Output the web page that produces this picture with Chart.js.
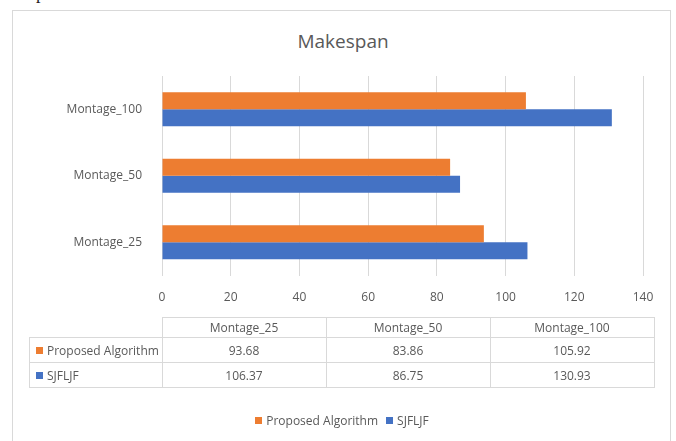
<!DOCTYPE html>
<html>
<head>
<meta charset="utf-8">
<script src="https://cdn.jsdelivr.net/npm/chart.js@4.4.0/dist/chart.umd.min.js"></script>
<style>
    body { margin: 0; background: #fff; font-family: 'Open Sans', sans-serif; color: #595959; }
    #wrap { position: relative; width: 676px; height: 441px; overflow: hidden; }
    #frame { position: absolute; left: 12px; top: 10px; width: 657px; height: 460px; border: 1px solid #d9d9d9; }
    #docText { position: absolute; left: 36px; top: -17px; font-family: 'Liberation Serif', serif; font-size: 18px; color: #222; }
    #title { position: absolute; left: 0; width: 686px; top: 29px; text-align: center; font-size: 19px; color: #595959; line-height: 24px; }
    canvas { position: absolute; left: 0; top: 0; }
    #dataTable { position: absolute; left: 29px; top: 317px; border-collapse: collapse; font-size: 12px; color: #595959; }
    #dataTable td { border: 1px solid #d9d9d9; text-align: center; padding: 0; white-space: nowrap; }
    #dataTable tr.head td { height: 19px; }
    #dataTable tr.row td { height: 24px; }
    #dataTable td.corner { border-top: none; border-left: none; }
    #dataTable td.name { text-align: left; padding-left: 6px; }
    .swatch { display: inline-block; width: 7px; height: 7px; margin-right: 4px; vertical-align: 1px; }
    #legend { position: absolute; left: 4px; width: 676px; top: 412px; text-align: center; font-size: 12px; color: #595959; }
    #legend span.item { margin: 0 4px; }
</style>
</head>
<body>
<div id="wrap">
    <div id="frame"></div>
    <div id="docText">p</div>
    <div id="title">Makespan</div>
    <canvas id="chart" width="676" height="441"></canvas>
    <table id="dataTable"></table>
    <div id="legend"></div>
</div>
<script>
    const categories = ['Montage_25', 'Montage_50', 'Montage_100'];
    const proposedValues = [93.68, 83.86, 105.92];
    const sjfljfValues = [106.37, 86.75, 130.93];
    const seriesNames = ['Proposed Algorithm', 'SJFLJF'];
    const seriesColors = ['#ed7d31', '#4472c4'];
    const xTicks = [0, 20, 40, 60, 80, 100, 120, 140];

    const textColor = '#595959';
    const gridColor = '#d9d9d9';
    const font = { family: "'Open Sans', sans-serif", size: 12 };

    const ctx = document.getElementById('chart').getContext('2d');
    new Chart(ctx, {
        type: 'bar',
        data: {
            labels: categories,
            datasets: [
                { label: seriesNames[0], data: proposedValues, backgroundColor: seriesColors[0] },
                { label: seriesNames[1], data: sjfljfValues, backgroundColor: seriesColors[1] }
            ]
        },
        options: {
            indexAxis: 'y',
            responsive: false,
            animation: false,
            datasets: { bar: { categoryPercentage: 0.51, barPercentage: 1 } },
            layout: { padding: { left: 20, right: 33, top: 76, bottom: 121 } },
            plugins: {
                legend: { display: false },
                tooltip: { enabled: false },
                title: { display: false }
            },
            scales: {
                x: {
                    min: 0,
                    max: 140,
                    afterBuildTicks: axis => { axis.ticks = xTicks.map(v => ({ value: v })); },
                    grid: { color: gridColor, drawTicks: false },
                    border: { display: false },
                    ticks: { color: textColor, font: font, padding: 15 }
                },
                y: {
                    reverse: true,
                    afterFit: axis => { axis.width = 142; },
                    grid: { display: false },
                    border: { display: false },
                    ticks: { color: textColor, font: font, padding: 12 }
                }
            }
        }
    });

    // data table under the plot
    const table = document.getElementById('dataTable');
    let html = '<tr class="head"><td class="corner" style="width:132px"></td>';
    categories.forEach(c => { html += '<td style="width:163px">' + c + '</td>'; });
    html += '</tr>';
    [proposedValues, sjfljfValues].forEach((vals, i) => {
        html += '<tr class="row"><td class="name"><span class="swatch" style="background:' + seriesColors[i] + '"></span>' + seriesNames[i] + '</td>';
        vals.forEach(v => { html += '<td>' + v.toFixed(2) + '</td>'; });
        html += '</tr>';
    });
    table.innerHTML = html;

    // legend
    document.getElementById('legend').innerHTML = seriesNames.map((n, i) =>
        '<span class="item"><span class="swatch" style="background:' + seriesColors[i] + '"></span>' + n + '</span>'
    ).join('');
</script>
</body>
</html>
